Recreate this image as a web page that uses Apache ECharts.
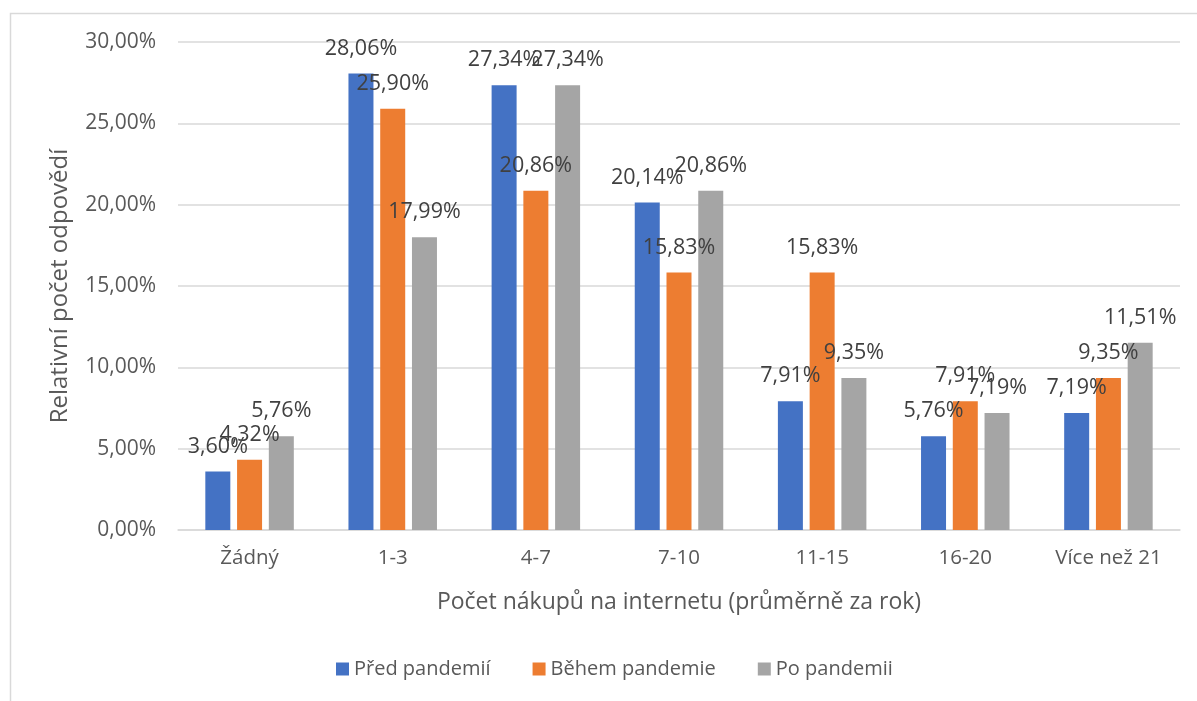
<!DOCTYPE html>
<html>
<head>
<meta charset="utf-8">
<script src="https://cdn.jsdelivr.net/npm/echarts@6/dist/echarts.min.js"></script>
<style>
html,body{margin:0;padding:0;background:#fff;}
#chart{width:1197px;height:701px;}
</style>
</head>
<body>
<div id="chart"></div>
<script>
const categories = ['Žádný', '1-3', '4-7', '7-10', '11-15', '16-20', 'Více než 21'];
const seriesNames = ['Před pandemií', 'Během pandemie', 'Po pandemii'];
const predPandemii = [3.60, 28.06, 27.34, 20.14, 7.91, 5.76, 7.19];
const behemPandemie = [4.32, 25.90, 20.86, 15.83, 15.83, 7.91, 9.35];
const poPandemii = [5.76, 17.99, 27.34, 20.86, 9.35, 7.19, 11.51];
const colors = ['#4472C4', '#ED7D31', '#A5A5A5'];
const yTicks = [0, 5, 10, 15, 20, 25, 30];

const FONT = 'Open Sans';
const fmt = v => v.toFixed(2).replace('.', ',') + '%';

const chart = echarts.init(document.getElementById('chart'));
const mk = (name, data, i) => ({
  name: name,
  type: 'bar',
  data: data,
  barWidth: 25,
  barGap: '27%',
  itemStyle: { color: colors[i] },
  label: {
    show: true,
    position: 'top',
    distance: 14,
    formatter: p => fmt(p.value),
    color: '#404040',
    fontFamily: FONT,
    fontSize: 21.5
  }
});
chart.setOption({
  animation: false,
  backgroundColor: '#fff',
  graphic: [{
    type: 'rect',
    shape: { x: 10.5, y: 13.5, width: 1200, height: 700 },
    style: { fill: 'none', stroke: '#d9d9d9', lineWidth: 1.5 },
    silent: true
  }],
  grid: { left: 178, right: 17, top: 42, bottom: 171 },
  legend: {
    data: seriesNames,
    bottom: 17,
    left: 331,
    itemWidth: 13,
    itemHeight: 13,
    itemGap: 42,
    icon: 'rect',
    textStyle: { color: '#595959', fontFamily: FONT, fontSize: 20 }
  },
  xAxis: {
    type: 'category',
    data: categories,
    name: 'Počet nákupů na internetu (průměrně za rok)',
    nameLocation: 'middle',
    nameGap: 61,
    nameTextStyle: { color: '#595959', fontFamily: FONT, fontSize: 23 },
    axisLine: { lineStyle: { color: '#d9d9d9', width: 1.5 } },
    axisTick: { show: false },
    axisLabel: { color: '#595959', fontFamily: FONT, fontSize: 20.5, margin: 18 }
  },
  yAxis: {
    type: 'value',
    min: 0,
    max: 30,
    interval: 5,
    name: 'Relativní počet odpovědí',
    nameLocation: 'middle',
    nameRotate: 90,
    nameGap: 106,
    nameTextStyle: { color: '#595959', fontFamily: FONT, fontSize: 24 },
    axisLine: { show: false },
    axisTick: { show: false },
    splitLine: { lineStyle: { color: '#d9d9d9', width: 1.5 } },
    axisLabel: {
      color: '#595959', fontFamily: FONT, fontSize: 21, margin: 22,
      formatter: v => yTicks.includes(v) ? fmt(v) : ''
    }
  },
  series: [
    mk(seriesNames[0], predPandemii, 0),
    mk(seriesNames[1], behemPandemie, 1),
    mk(seriesNames[2], poPandemii, 2)
  ]
});
</script>
</body>
</html>
